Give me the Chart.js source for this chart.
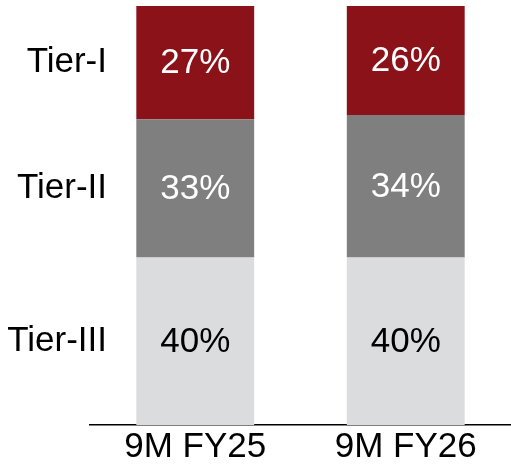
<!DOCTYPE html>
<html>
<head>
<meta charset="utf-8">
<script src="https://cdn.jsdelivr.net/npm/chart.js@4.4.1/dist/chart.umd.min.js"></script>
<style>
  html, body { margin: 0; padding: 0; background: #fff; overflow: hidden; }
  #wrap { width: 511px; height: 474px; }
</style>
</head>
<body>
<div id="wrap"><canvas id="barChart"></canvas></div>
<script>
// Data
var periods = ['9M FY25', '9M FY26'];
var tiers = ['Tier-III', 'Tier-II', 'Tier-I'];
var tier3 = [40, 40];
var tier2 = [33, 34];
var tier1 = [27, 26];

var fontFamily = '"Liberation Sans", Arial, sans-serif';

// writes the % inside each segment
var valueLabels = {
    id: 'valueLabels',
    afterDatasetsDraw: function(chart) {
        var ctx = chart.ctx;
        ctx.save();
        ctx.font = '35px ' + fontFamily;
        ctx.textAlign = 'center';
        ctx.textBaseline = 'middle';
        chart.data.datasets.forEach(function(ds, i) {
            var meta = chart.getDatasetMeta(i);
            meta.data.forEach(function(bar, j) {
                var mid = (bar.y + bar.base) / 2;
                ctx.fillStyle = ds.labelColor;
                ctx.fillText(ds.data[j] + '%', bar.x, mid + 1);
            });
        });
        ctx.restore();
    }
};

// tier names to the left of the first bar
var tierLabels = {
    id: 'tierLabels',
    afterDatasetsDraw: function(chart) {
        var ctx = chart.ctx;
        ctx.save();
        ctx.font = '35px ' + fontFamily;
        ctx.textAlign = 'right';
        ctx.textBaseline = 'middle';
        ctx.fillStyle = '#000';
        chart.data.datasets.forEach(function(ds, i) {
            var bar = chart.getDatasetMeta(i).data[0];
            var mid = (bar.y + bar.base) / 2;
            ctx.fillText(ds.label, 107, mid);
        });
        ctx.restore();
    }
};

var ctx = document.getElementById('barChart').getContext('2d');
var myChart = new Chart(ctx, {
    type: 'bar',
    data: {
        labels: periods,
        datasets: [{
            label: tiers[0],
            data: tier3,
            backgroundColor: '#dbdcde',
            labelColor: '#000'
        }, {
            label: tiers[1],
            data: tier2,
            backgroundColor: '#7f7f7f',
            labelColor: '#fff'
        }, {
            label: tiers[2],
            data: tier1,
            backgroundColor: '#8c1219',
            labelColor: '#fff'
        }]
    },
    options: {
        responsive: true,
        maintainAspectRatio: false,
        animation: false,
        datasets: {
            bar: { barPercentage: 0.56, categoryPercentage: 1.0 }
        },
        layout: { padding: { left: 90, top: 6, right: 0, bottom: 0 } },
        plugins: {
            legend: { display: false },
            tooltip: { enabled: false }
        },
        scales: {
            x: {
                stacked: true,
                grid: { display: false },
                border: { display: true, color: '#000', width: 1.5 },
                ticks: {
                    color: '#000',
                    padding: -7,
                    font: { family: fontFamily, size: 35, lineHeight: 1.2 }
                },
                afterFit: function(scale) { scale.height = 49; }
            },
            y: {
                stacked: true,
                display: false,
                min: 0,
                max: 100
            }
        }
    },
    plugins: [valueLabels, tierLabels]
});
</script>
</body>
</html>
